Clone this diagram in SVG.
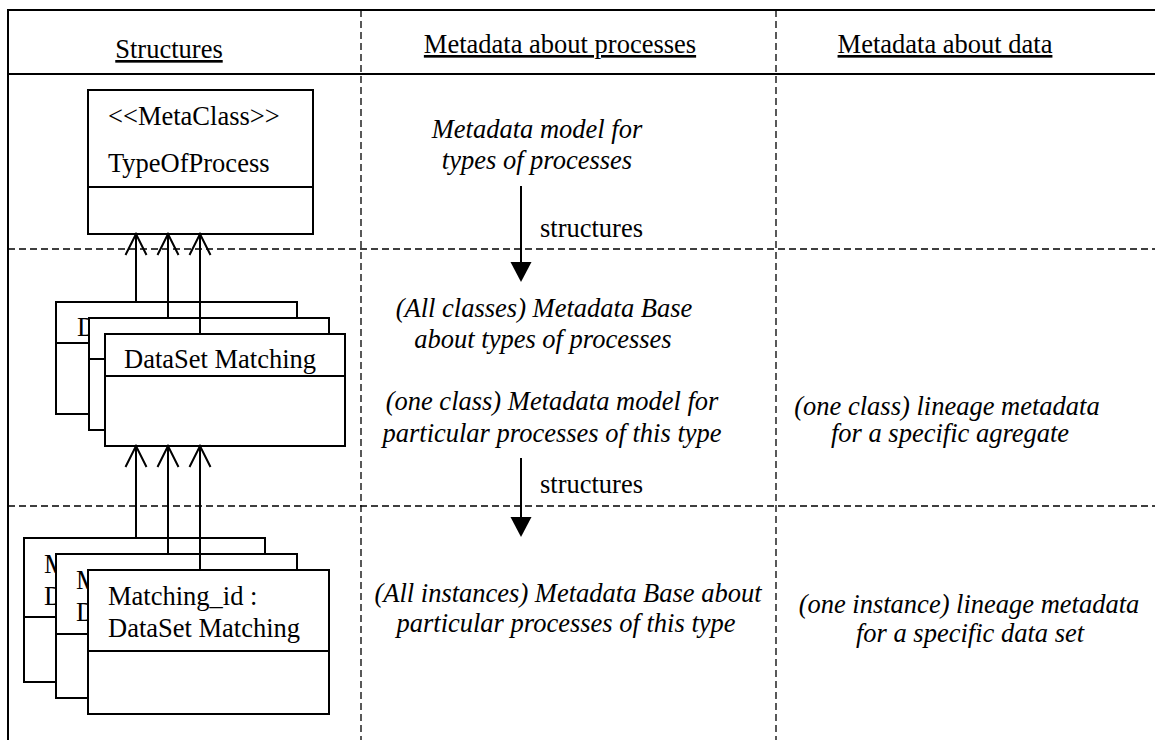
<svg xmlns="http://www.w3.org/2000/svg" width="1155" height="740" viewBox="0 0 1155 740">
<style>
text{font-family:"Liberation Serif","Times New Roman",serif;font-size:26.5px;fill:#000}
.it{font-style:italic}
.mid{text-anchor:middle}
.u{text-decoration:underline}
.frame{stroke:#000;stroke-width:2;fill:none}
.dash{stroke:#000;stroke-width:1.3;stroke-dasharray:7 4;fill:none}
.box{fill:#fff;stroke:#000;stroke-width:2}
.div{stroke:#000;stroke-width:2}
.conn{stroke:#000;stroke-width:2;fill:none}
</style>
<rect width="1155" height="740" fill="#fff"/>
<g id="table">
<line class="frame" x1="8" y1="10" x2="1155" y2="10"/>
<line class="frame" x1="8" y1="74" x2="1155" y2="74"/>
<line class="frame" x1="8" y1="9" x2="8" y2="740"/>
<line class="dash" x1="361" y1="10" x2="361" y2="740"/>
<line class="dash" x1="776" y1="10" x2="776" y2="740"/>
<line class="dash" x1="8" y1="249" x2="1155" y2="249"/>
<line class="dash" x1="8" y1="506" x2="1155" y2="506"/>
<text class="mid u" x="169" y="58">Structures</text>
<text class="mid u" x="560" y="53">Metadata about processes</text>
<text class="mid u" x="945" y="53">Metadata about data</text>
</g>
<g id="typeofprocess">
<rect class="box" x="88" y="90" width="225" height="144"/>
<line class="div" x1="88" y1="187" x2="313" y2="187"/>
<text x="108" y="125">&lt;&lt;MetaClass&gt;&gt;</text>
<text x="108" y="172">TypeOfProcess</text>
</g>
<g id="dataset-back">
<rect class="box" x="56" y="302" width="241" height="112"/>
<line class="div" x1="56" y1="343" x2="297" y2="343"/>
<text x="77" y="336">D</text>
</g>
<g id="dataset-middle">
<rect class="box" x="89" y="318" width="240" height="112"/>
<line class="div" x1="89" y1="359" x2="329" y2="359"/>
</g>
<g id="dataset-front">
<rect class="box" x="105" y="334" width="240" height="112"/>
<line class="div" x1="105" y1="376" x2="345" y2="376"/>
<text x="124" y="368">DataSet Matching</text>
</g>
<g id="instance-back">
<rect class="box" x="24" y="538" width="241" height="144"/>
<line class="div" x1="24" y1="617" x2="265" y2="617"/>
<text x="44" y="573">M</text>
<text x="44" y="605">D</text>
</g>
<g id="instance-middle">
<rect class="box" x="56" y="554" width="241" height="144"/>
<line class="div" x1="56" y1="634" x2="297" y2="634"/>
<text x="76" y="589">M</text>
<text x="76" y="621">D</text>
</g>
<g id="instance-front">
<rect class="box" x="88" y="570" width="241" height="144"/>
<line class="div" x1="88" y1="651" x2="329" y2="651"/>
<text x="108" y="605">Matching_id :</text>
<text x="108" y="637">DataSet Matching</text>
</g>
<g id="labels">
<text class="it mid" x="537" y="138">Metadata model for</text>
<text class="it mid" x="537" y="169">types of processes</text>
<text class="it mid" x="544" y="317">(All classes) Metadata Base</text>
<text class="it mid" x="543" y="348">about types of processes</text>
<text class="it mid" x="552" y="410">(one class) Metadata model for</text>
<text class="it mid" x="552" y="442">particular processes of this type</text>
<text class="it mid" x="568" y="602">(All instances) Metadata Base about</text>
<text class="it mid" x="566" y="632">particular processes of this type</text>
<text class="it mid" x="947" y="415">(one class) lineage metadata</text>
<text class="it mid" x="950" y="442">for a specific agregate</text>
<text class="it mid" x="969" y="613">(one instance) lineage metadata</text>
<text class="it mid" x="970" y="642">for a specific data set</text>
<text x="540" y="237">structures</text>
<text x="540" y="493">structures</text>
</g>
<g id="connectors">
<path class="conn" d="M136,302 V234 M125.5,255 L136,234 L146.5,255"/>
<path class="conn" d="M168,318 V234 M157.5,255 L168,234 L178.5,255"/>
<path class="conn" d="M200,334 V234 M189.5,255 L200,234 L210.5,255"/>
<path class="conn" d="M136,538 V446 M125.5,467 L136,446 L146.5,467"/>
<path class="conn" d="M168,554 V446 M157.5,467 L168,446 L178.5,467"/>
<path class="conn" d="M200,570 V446 M189.5,467 L200,446 L210.5,467"/>
<line class="conn" x1="521" y1="186" x2="521" y2="264"/>
<path d="M510.5,262 L531.5,262 L521,282 Z" fill="#000"/>
<line class="conn" x1="521" y1="458" x2="521" y2="519"/>
<path d="M510.5,517 L531.5,517 L521,537 Z" fill="#000"/>
</g>
</svg>
